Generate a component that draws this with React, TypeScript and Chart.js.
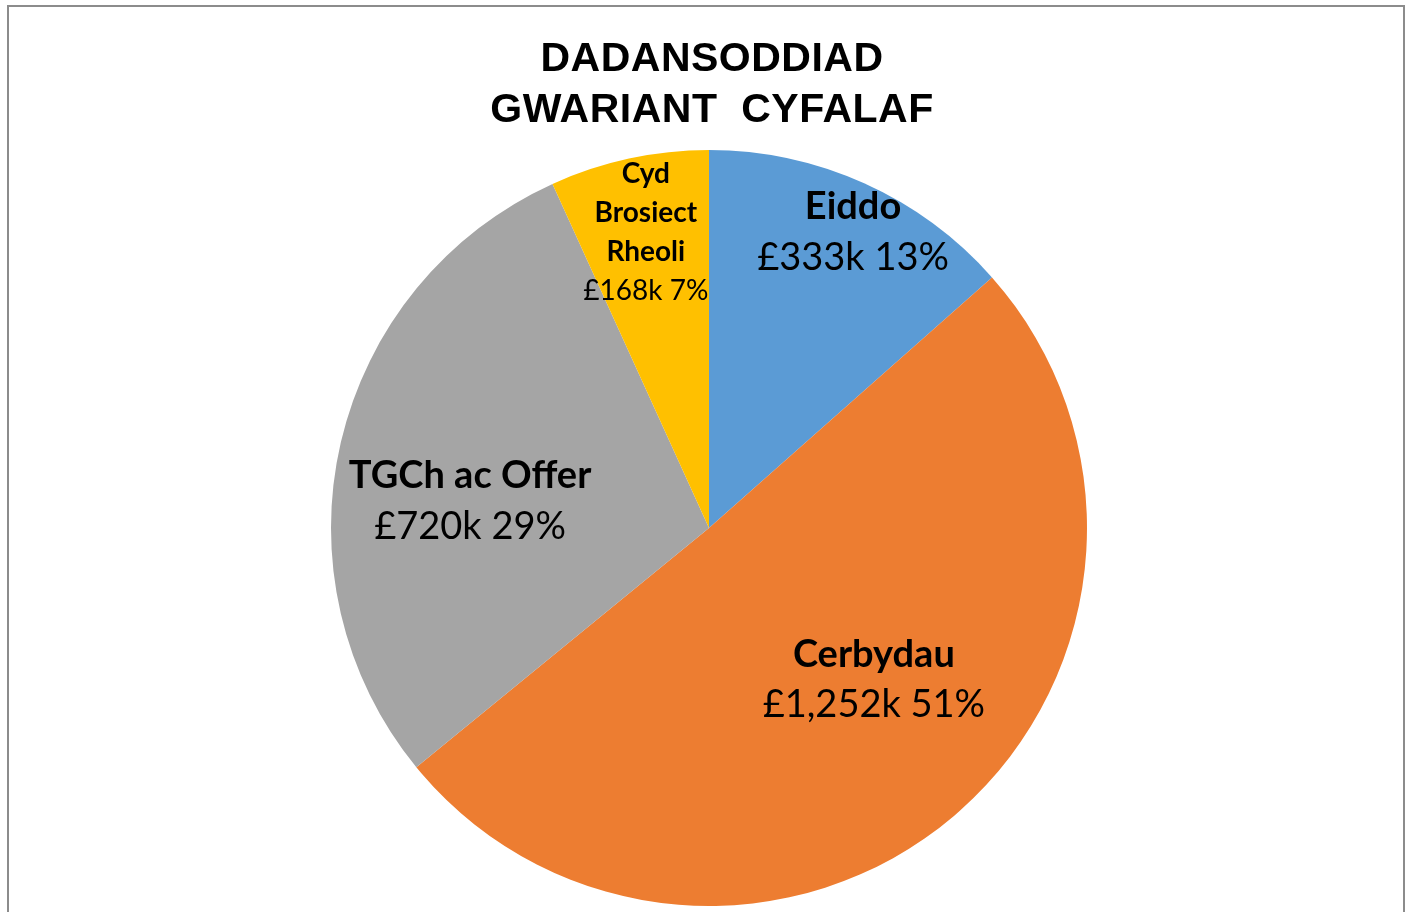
import React, { useEffect, useRef } from 'react';
import { Chart, registerables } from 'chart.js';

Chart.register(...registerables);

const categories = ['Eiddo', 'Cerbydau', 'TGCh ac Offer', 'Cyd Brosiect Rheoli'];
const values = [333, 1252, 720, 168];
const colors = ['#5B9BD5', '#ED7D31', '#A5A5A5', '#FFC000'];
const titleLines = ['DADANSODDIAD', 'GWARIANT  CYFALAF'];

// label placement (style only): angle shift from slice middle (deg), radius fraction, font size, line height, wrap name
const labelLayout = [
  { dAngle: 1.74, rFrac: 0.87, size: 38, lineH: 51, wrap: false },
  { dAngle: -6.95, rFrac: 0.593, size: 38, lineH: 50, wrap: false },
  { dAngle: -6.8, rFrac: 0.636, size: 38, lineH: 51, wrap: false },
  { dAngle: 0.17, rFrac: 0.80, size: 28, lineH: 39, wrap: true },
];

const LABEL_FONT = 'Lato, "Open Sans", sans-serif';

const labelPlugin = {
  id: 'sliceLabels',
  afterDatasetsDraw(chart: any) {
    const ctx = chart.ctx;
    const meta = chart.getDatasetMeta(0);
    const data = chart.data.datasets[0].data as number[];
    const total = data.reduce((a, b) => a + b, 0);
    meta.data.forEach((arc: any, i: number) => {
      const p = arc.getProps(['x', 'y', 'startAngle', 'endAngle', 'outerRadius'], true);
      const lay = labelLayout[i];
      const mid = (p.startAngle + p.endAngle) / 2 + (lay.dAngle * Math.PI) / 180;
      const r = p.outerRadius * lay.rFrac;
      const cx = p.x + Math.cos(mid) * r;
      const cy = p.y + Math.sin(mid) * r;
      const name = String(chart.data.labels[i]);
      const nameLines = lay.wrap ? name.split(' ') : [name];
      const pct = Math.round((data[i] / total) * 100);
      const valueLine = '£' + data[i].toLocaleString('en-GB') + 'k ' + pct + '%';
      const lines = [...nameLines.map((t) => ({ t, bold: true })), { t: valueLine, bold: false }];
      ctx.save();
      ctx.fillStyle = '#000000';
      ctx.textAlign = 'center';
      ctx.textBaseline = 'middle';
      lines.forEach((ln, j) => {
        ctx.font = (ln.bold ? 'bold ' : '') + lay.size + 'px ' + LABEL_FONT;
        const y = cy + (j - (lines.length - 1) / 2) * lay.lineH;
        ctx.fillText(ln.t, cx, y);
      });
      ctx.restore();
    });
  },
};

const titlePlugin = {
  id: 'customTitle',
  afterDraw(chart: any) {
    const ctx = chart.ctx;
    ctx.save();
    ctx.fillStyle = '#000000';
    ctx.textAlign = 'center';
    ctx.textBaseline = 'alphabetic';
    ctx.font = 'bold 41px "Liberation Sans", Arial, sans-serif';
    (ctx as any).letterSpacing = '0.5px';
    titleLines.forEach((t, i) => {
      ctx.fillText(t, 712, 71 + i * 51);
    });
    ctx.restore();
  },
};

export default function App() {
  const ref = useRef<HTMLCanvasElement | null>(null);
  useEffect(() => {
    if (!ref.current) return;
    const chart = new Chart(ref.current, {
      type: 'pie',
      data: {
        labels: categories,
        datasets: [
          {
            data: values,
            backgroundColor: colors,
            borderWidth: 0,
          },
        ],
      },
      options: {
        responsive: false,
        animation: false,
        devicePixelRatio: 1,
        layout: { padding: { left: 331, right: 320, top: 150, bottom: 6 } },
        plugins: {
          legend: { display: false },
          title: { display: false },
          tooltip: { enabled: false },
        },
      },
      plugins: [labelPlugin, titlePlugin],
    });
    return () => chart.destroy();
  }, []);
  return (
    <>
      <div
        style={{
          position: 'fixed',
          left: 7,
          top: 5,
          width: 1398,
          height: 1000,
          border: '2px solid #8c8c8c',
          boxSizing: 'border-box',
          background: '#ffffff',
        }}
      />
      <canvas
        ref={ref}
        width={1407}
        height={912}
        style={{ position: 'fixed', left: 0, top: 0, width: 1407, height: 912 }}
      />
    </>
  );
}
